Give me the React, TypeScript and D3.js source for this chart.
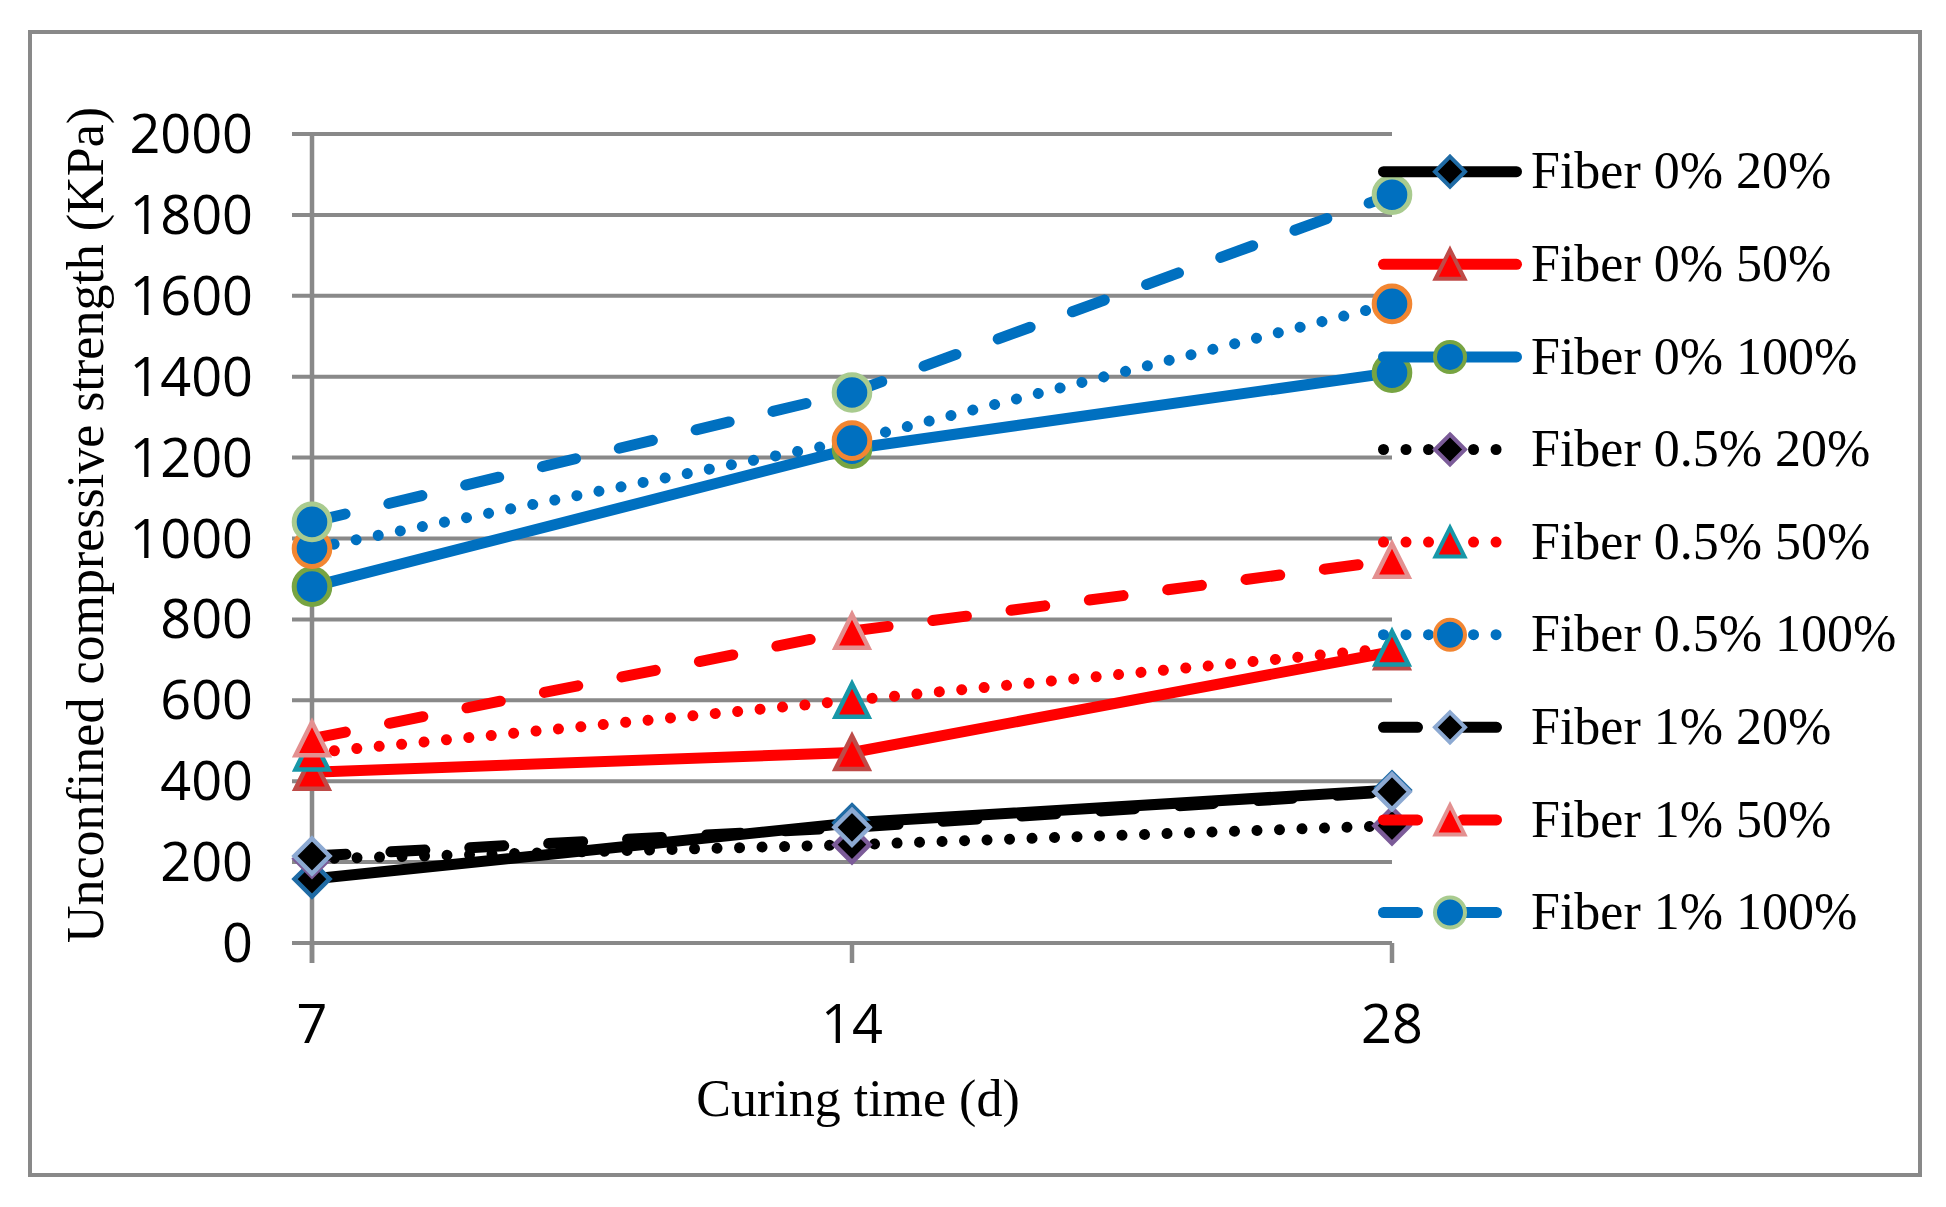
import { useEffect } from 'react'
import * as d3 from 'd3'

const WIDTH = 1946
const HEIGHT = 1207

// categories and ticks
const curingDays = ['7', '14', '28']
const yTicks = [0, 200, 400, 600, 800, 1000, 1200, 1400, 1600, 1800, 2000]

// series values (KPa)
const fiber0_20 = [158, 297, 378]
const fiber0_50 = [422, 471, 720]
const fiber0_100 = [881, 1222, 1410]
const fiber05_20 = [208, 243, 290]
const fiber05_50 = [470, 600, 729]
const fiber05_100 = [975, 1242, 1580]
const fiber1_20 = [215, 286, 374]
const fiber1_50 = [505, 771, 946]
const fiber1_100 = [1041, 1361, 1850]

const seriesLabels = [
  'Fiber 0% 20%',
  'Fiber 0% 50%',
  'Fiber 0% 100%',
  'Fiber 0.5% 20%',
  'Fiber 0.5% 50%',
  'Fiber 0.5% 100%',
  'Fiber 1% 20%',
  'Fiber 1% 50%',
  'Fiber 1% 100%'
]
const seriesValues = [
  fiber0_20, fiber0_50, fiber0_100,
  fiber05_20, fiber05_50, fiber05_100,
  fiber1_20, fiber1_50, fiber1_100
]

type MarkerType = 'diamond' | 'triangle' | 'circle'
type DashType = 'solid' | 'dot' | 'dash'

interface SeriesStyle {
  color: string
  dash: DashType
  marker: MarkerType
  fill: string
  border: string
}

const BLACK = '#000000'
const RED = '#FF0000'
const BLUE = '#0070C0'

const seriesStyles: SeriesStyle[] = [
  { color: BLACK, dash: 'solid', marker: 'diamond', fill: BLACK, border: '#1F6BA5' },
  { color: RED, dash: 'solid', marker: 'triangle', fill: RED, border: '#BE4B48' },
  { color: BLUE, dash: 'solid', marker: 'circle', fill: BLUE, border: '#77A442' },
  { color: BLACK, dash: 'dot', marker: 'diamond', fill: BLACK, border: '#7B5B98' },
  { color: RED, dash: 'dot', marker: 'triangle', fill: RED, border: '#1797A8' },
  { color: BLUE, dash: 'dot', marker: 'circle', fill: BLUE, border: '#F28632' },
  { color: BLACK, dash: 'dash', marker: 'diamond', fill: BLACK, border: '#8CA9D2' },
  { color: RED, dash: 'dash', marker: 'triangle', fill: RED, border: '#E39090' },
  { color: BLUE, dash: 'dash', marker: 'circle', fill: BLUE, border: '#A9CB8F' }
]

const GRID = '#898989'
const LINE_W = 11
const dashArray = (d: DashType) => (d === 'dot' ? '0.01 22.5' : d === 'dash' ? '34 45' : undefined)

// marker outline path centred on 0,0
function markerPath(type: MarkerType, s: number): string {
  const p = d3.path()
  if (type === 'circle') {
    p.arc(0, 0, s, 0, Math.PI * 2)
  } else if (type === 'diamond') {
    p.moveTo(0, -s)
    p.lineTo(s, 0)
    p.lineTo(0, s)
    p.lineTo(-s, 0)
  } else {
    p.moveTo(0, -s)
    p.lineTo(s, s)
    p.lineTo(-s, s)
  }
  p.closePath()
  return p.toString()
}

const markerSize = (type: MarkerType, legend: boolean) => {
  if (type === 'circle') return legend ? 15 : 17.8
  if (type === 'diamond') return legend ? 15 : 17.5
  return legend ? 14.5 : 16.5
}

export default function App() {
  useEffect(() => {
    document.body.style.margin = '0'
  }, [])

  const margin = { left: 312, right: 1392, top: 134, bottom: 943 }
  const x = d3.scalePoint<string>().domain(curingDays).range([margin.left, margin.right])
  const y = d3.scaleLinear().domain([0, 2000]).range([margin.bottom, margin.top])
  const line = d3
    .line<number>()
    .x((_, i) => x(curingDays[i]) ?? 0)
    .y(d => y(d))

  const legendX0 = 1383.5
  const legendX1 = 1516.5
  const legendMarkerX = 1450
  const legendTop = 171.7
  const legendStep = 92.6

  return (
    <svg
      width={WIDTH}
      height={HEIGHT}
      style={{ position: 'absolute', left: 0, top: 0, background: '#fff' }}
    >
      <rect x={0} y={0} width={WIDTH} height={HEIGHT} fill="#fff" />
      <rect x={30} y={32} width={1890} height={1143} fill="none" stroke={GRID} strokeWidth={4} />

      {/* gridlines + y tick marks */}
      {yTicks.map(t => (
        <line key={t} x1={292} x2={margin.right} y1={y(t)} y2={y(t)} stroke={GRID} strokeWidth={4} />
      ))}
      {/* y axis line */}
      <line x1={margin.left} x2={margin.left} y1={y(2000)} y2={y(0) + 20} stroke={GRID} strokeWidth={4.5} />
      {/* x tick marks */}
      {curingDays.map(d => (
        <line key={d} x1={x(d)} x2={x(d)} y1={y(0)} y2={y(0) + 20} stroke={GRID} strokeWidth={4.5} />
      ))}

      {/* y tick labels */}
      {yTicks.map(t => (
        <text
          key={t}
          x={253}
          y={y(t) + 19}
          textAnchor="end"
          fontFamily="'Open Sans', sans-serif"
          fontSize={54}
          fill="#000"
        >
          {t}
        </text>
      ))}
      {/* x tick labels */}
      {curingDays.map(d => (
        <text
          key={d}
          x={x(d)}
          y={1043}
          textAnchor="middle"
          fontFamily="'Open Sans', sans-serif"
          fontSize={54}
          fill="#000"
        >
          {d}
        </text>
      ))}

      {/* series */}
      {seriesValues.map((vals, si) => {
        const st = seriesStyles[si]
        return (
          <g key={seriesLabels[si]}>
            <path
              d={line(vals) ?? ''}
              fill="none"
              stroke={st.color}
              strokeWidth={LINE_W}
              strokeLinecap="round"
              strokeLinejoin="round"
              strokeDasharray={dashArray(st.dash)}
            />
            {vals.map((v, i) => (
              <path
                key={i}
                transform={`translate(${x(curingDays[i])},${y(v)})`}
                d={markerPath(st.marker, markerSize(st.marker, false))}
                fill={st.fill}
                stroke={st.border}
                strokeWidth={st.marker === 'circle' ? 5 : 4.5}
              />
            ))}
          </g>
        )
      })}

      {/* legend */}
      {seriesLabels.map((label, si) => {
        const st = seriesStyles[si]
        const ly = legendTop + si * legendStep
        return (
          <g key={label}>
            <line
              x1={legendX0}
              x2={st.dash === 'dot' ? 1500 : legendX1}
              y1={ly}
              y2={ly}
              stroke={st.color}
              strokeWidth={LINE_W}
              strokeLinecap="round"
              strokeDasharray={dashArray(st.dash)}
            />
            <path
              transform={`translate(${legendMarkerX},${ly})`}
              d={markerPath(st.marker, markerSize(st.marker, true))}
              fill={st.fill}
              stroke={st.border}
              strokeWidth={4}
            />
            <text
              x={1531}
              y={ly + 16.7}
              fontFamily="'Liberation Serif', 'Times New Roman', serif"
              fontSize={52}
              fill="#000"
            >
              {label}
            </text>
          </g>
        )
      })}

      {/* axis titles */}
      <text
        x={858}
        y={1116}
        textAnchor="middle"
        fontFamily="'Liberation Serif', 'Times New Roman', serif"
        fontSize={52}
        fill="#000"
      >
        Curing time (d)
      </text>
      <text
        transform="translate(103,525) rotate(-90)"
        textAnchor="middle"
        fontFamily="'Liberation Serif', 'Times New Roman', serif"
        fontSize={52}
        fill="#000"
      >
        Unconfined compressive strength (KPa)
      </text>
    </svg>
  )
}
